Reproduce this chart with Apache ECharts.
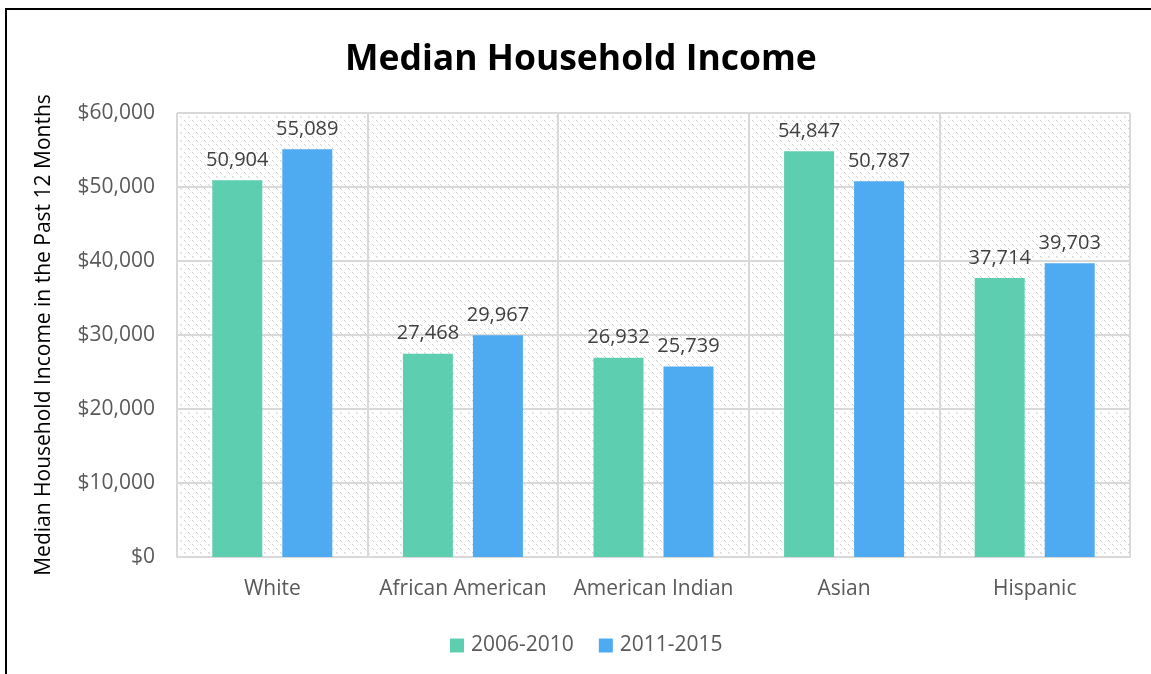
<!DOCTYPE html>
<html>
<head>
<meta charset="utf-8">
<script src="https://cdn.jsdelivr.net/npm/echarts@6/dist/echarts.min.js"></script>
<style>
  html, body { margin: 0; padding: 0; background: #fff; }
  #chart { width: 1151px; height: 674px; }
</style>
</head>
<body>
<div id="chart"></div>
<script>
const categories = ['White', 'African American', 'American Indian', 'Asian', 'Hispanic'];
const seriesNames = ['2006-2010', '2011-2015'];
const income2006_2010 = [50904, 27468, 26932, 54847, 37714];
const income2011_2015 = [55089, 29967, 25739, 50787, 39703];

// Diagonal dashed hatch used as the plot background
function makeHatch() {
  const c = document.createElement('canvas');
  const s = 8;
  c.width = s; c.height = s;
  const ctx = c.getContext('2d');
  ctx.fillStyle = '#ffffff';
  ctx.fillRect(0, 0, s, s);
  ctx.fillStyle = '#cccccc';
  for (let i = 0; i < s; i++) {
    if (Math.floor(i / 2) % 2 === 0) ctx.fillRect(i, i, 1, 1);
  }
  return c;
}

const font = '"Open Sans", sans-serif';
const chart = echarts.init(document.getElementById('chart'), null, { renderer: 'canvas' });

chart.setOption({
  animation: false,
  textStyle: { fontFamily: font },
  title: {
    text: 'Median Household Income',
    left: 340,
    top: 37,
    textStyle: { fontSize: 35.5, fontWeight: 'bold', color: '#000', fontFamily: font }
  },
  legend: {
    data: seriesNames,
    bottom: 18,
    left: 450,
    padding: 0,
    itemWidth: 14,
    itemHeight: 14,
    itemGap: 25,
    icon: 'rect',
    textStyle: { fontSize: 21, color: '#595959', fontFamily: font, padding: [0, 0, 0, 2] }
  },
  grid: {
    left: 177,
    right: 21,
    top: 113,
    bottom: 117,
    show: true,
    borderWidth: 0,
    backgroundColor: { image: makeHatch(), repeat: 'repeat' }
  },
  xAxis: {
    type: 'category',
    data: categories,
    axisLine: { show: true, lineStyle: { color: '#d9d9d9', width: 2 } },
    axisTick: { show: false },
    splitLine: { show: true, interval: 0, lineStyle: { color: '#d9d9d9', width: 2 } },
    axisLabel: { interval: 0, fontSize: 21, color: '#595959', margin: 22, fontFamily: font }
  },
  yAxis: {
    type: 'value',
    min: 0,
    max: 60000,
    interval: 10000,
    name: 'Median Household Income in the Past 12 Months',
    nameLocation: 'middle',
    nameGap: 122,
    nameTextStyle: { fontSize: 21, color: '#000', fontFamily: font },
    axisLine: { show: false },
    axisTick: { show: false },
    splitLine: { show: true, lineStyle: { color: '#d9d9d9', width: 2 } },
    axisLabel: {
      fontSize: 21, color: '#595959', margin: 22, fontFamily: font,
      formatter: v => '$' + v.toLocaleString('en-US')
    }
  },
  series: [
    {
      name: seriesNames[0],
      type: 'bar',
      data: income2006_2010,
      barWidth: 50,
      barGap: '40%',
      itemStyle: { color: '#5ECEB0' },
      label: {
        show: true, position: 'top', distance: 10,
        fontSize: 20, color: '#404040', fontFamily: font,
        formatter: p => p.value.toLocaleString('en-US')
      }
    },
    {
      name: seriesNames[1],
      type: 'bar',
      data: income2011_2015,
      barWidth: 50,
      barGap: '40%',
      itemStyle: { color: '#4EABF1' },
      label: {
        show: true, position: 'top', distance: 10,
        fontSize: 20, color: '#404040', fontFamily: font,
        formatter: p => p.value.toLocaleString('en-US')
      }
    }
  ],
  graphic: [
    {
      type: 'rect',
      shape: { x: 6, y: 9, width: 1300, height: 800 },
      style: { fill: 'none', stroke: '#000', lineWidth: 2 },
      silent: true,
      z: 100
    }
  ]
});
</script>
</body>
</html>
